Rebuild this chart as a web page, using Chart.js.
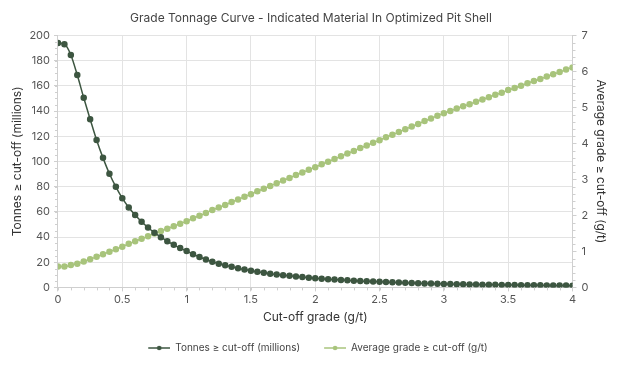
<!DOCTYPE html>
<html>
<head>
<meta charset="utf-8">
<script src="https://cdn.jsdelivr.net/npm/chart.js@4/dist/chart.umd.min.js"></script>
<style>
html,body{margin:0;padding:0;background:#fff;}
#wrap{width:624px;height:365px;position:relative;}
</style>
</head>
<body>
<div id="wrap"><canvas id="c" width="624" height="365"></canvas></div>
<script>
const cutoffGrades = [0,0.05,0.1,0.15,0.2,0.25,0.3,0.35,0.4,0.45,0.5,0.55,0.6,0.65,0.7,0.75,0.8,0.85,0.9,0.95,1,1.05,1.1,1.15,1.2,1.25,1.3,1.35,1.4,1.45,1.5,1.55,1.6,1.65,1.7,1.75,1.8,1.85,1.9,1.95,2,2.05,2.1,2.15,2.2,2.25,2.3,2.35,2.4,2.45,2.5,2.55,2.6,2.65,2.7,2.75,2.8,2.85,2.9,2.95,3,3.05,3.1,3.15,3.2,3.25,3.3,3.35,3.4,3.45,3.5,3.55,3.6,3.65,3.7,3.75,3.8,3.85,3.9,3.95,4];
const tonnes = [194,193,184.5,168.5,150.5,133.5,117,102.8,90.2,79.8,70.8,63.4,57.4,52.1,47.5,43.3,39.9,36.6,33.8,31.2,28.8,26.4,24.2,22.1,20.4,18.8,17.5,16.3,15.2,14.2,13.3,12.4,11.6,10.9,10.3,9.7,9.2,8.7,8.2,7.7,7.3,6.9,6.5,6.2,5.9,5.6,5.3,5.1,4.8,4.6,4.4,4.2,4.0,3.8,3.6,3.45,3.3,3.15,3.0,2.9,2.75,2.65,2.55,2.45,2.35,2.25,2.2,2.1,2.05,2.0,1.9,1.85,1.8,1.75,1.7,1.65,1.6,1.55,1.5,1.45,1.4];
const avgGrade = [0.58,0.58,0.62,0.66,0.72,0.78,0.85,0.92,0.99,1.06,1.13,1.21,1.28,1.35,1.42,1.50,1.57,1.63,1.70,1.77,1.84,1.92,1.99,2.07,2.15,2.22,2.29,2.37,2.44,2.52,2.59,2.67,2.74,2.82,2.89,2.97,3.04,3.12,3.19,3.27,3.34,3.42,3.49,3.57,3.64,3.72,3.79,3.87,3.94,4.02,4.09,4.17,4.24,4.32,4.39,4.47,4.54,4.62,4.69,4.77,4.84,4.90,4.97,5.03,5.09,5.16,5.22,5.28,5.35,5.41,5.48,5.54,5.60,5.67,5.73,5.79,5.86,5.92,5.98,6.05,6.11];
const seriesNames = ["Tonnes \u2265 cut-off (millions)","Average grade \u2265 cut-off (g/t)"];
const titleText = "Grade Tonnage Curve - Indicated Material In Optimized Pit Shell";
const xTitle = "Cut-off grade (g/t)";
const yLeftTitle = "Tonnes \u2265 cut-off (millions)";
const yRightTitle = "Average grade \u2265 cut-off (g/t)";

const darkCol = '#3d5641';
const lightCol = '#a8c47c';
const FONT = 'Inter, "Noto Sans", sans-serif';

function legendIcon(col){
  const cv = document.createElement('canvas');
  cv.width = 36; cv.height = 10;
  const g = cv.getContext('2d');
  g.strokeStyle = col; g.lineWidth = 1.5;
  g.beginPath(); g.moveTo(14,5); g.lineTo(36,5); g.stroke();
  g.fillStyle = col; g.beginPath(); g.arc(25,5,2.3,0,Math.PI*2); g.fill();
  return cv;
}

const minorTicks = {
  id:'minorTicks',
  afterDraw(chart){
    const ctx = chart.ctx;
    ctx.save();
    ctx.strokeStyle = '#cfcfcf';
    ctx.lineWidth = 1;
    const x = chart.scales.x, yl = chart.scales.y, yr = chart.scales.y2;
    ctx.beginPath();
    for(let v=0; v<=200.001; v+=5){
      const p = Math.round(yl.getPixelForValue(v))+0.5;
      ctx.moveTo(yl.right-3,p); ctx.lineTo(yl.right,p);
    }
    for(let v=0; v<=7.001; v+=0.2){
      const p = Math.round(yr.getPixelForValue(v))+0.5;
      ctx.moveTo(yr.left,p); ctx.lineTo(yr.left+3,p);
    }
    for(let v=0; v<=4.001; v+=0.1){
      const p = Math.round(x.getPixelForValue(v))+0.5;
      ctx.moveTo(p,x.top); ctx.lineTo(p,x.top+3);
    }
    ctx.stroke();
    ctx.restore();
  }
};

new Chart(document.getElementById('c'), {
  type:'line',
  data:{
    labels: cutoffGrades,
    datasets:[
      {label:seriesNames[0], data:cutoffGrades.map((g,i)=>({x:g,y:tonnes[i]})), yAxisID:'y',
       borderColor:darkCol, backgroundColor:darkCol, borderWidth:1.5, pointRadius:2.5, pointHoverRadius:2.5,
       pointStyle:'circle', cubicInterpolationMode:'monotone'},
      {label:seriesNames[1], data:cutoffGrades.map((g,i)=>({x:g,y:avgGrade[i]})), yAxisID:'y2',
       borderColor:lightCol, backgroundColor:lightCol, borderWidth:1.5, pointRadius:2.5, pointHoverRadius:2.5,
       pointStyle:'circle', cubicInterpolationMode:'monotone'}
    ]
  },
  options:{
    responsive:false, animation:false,
    layout:{padding:{left:10,right:12,top:2,bottom:2}},
    plugins:{
      title:{display:true,text:titleText,color:'#444',font:{family:FONT,size:12,weight:'normal'},padding:{top:9,bottom:10}},
      legend:{position:'bottom',
        labels:{color:'#444',font:{family:FONT,size:10},usePointStyle:true,pointStyleWidth:36,boxWidth:36,boxHeight:10,padding:10,
          generateLabels(chart){
            return chart.data.datasets.map((d,i)=>({text:d.label,fillStyle:d.borderColor,strokeStyle:d.borderColor,
              pointStyle:legendIcon(d.borderColor),datasetIndex:i,hidden:false,lineWidth:0,fontColor:'#444'}));
          }}},
      tooltip:{enabled:false}
    },
    scales:{
      x:{type:'linear',min:0,max:4,
        ticks:{stepSize:0.5,color:'#555',font:{family:FONT,size:11},padding:2,maxRotation:0,
          callback:(v)=>String(v)},
        grid:{color:'#e3e3e3',tickLength:4,tickColor:'#cfcfcf'},
        border:{color:'#cfcfcf'},
        title:{display:true,text:xTitle,color:'#333',font:{family:FONT,size:12},padding:{top:2,bottom:8}}},
      y:{position:'left',min:0,max:200,
        ticks:{stepSize:20,color:'#555',font:{family:FONT,size:11},padding:4},
        grid:{color:'#e3e3e3',tickLength:4,tickColor:'#cfcfcf'},
        border:{color:'#cfcfcf'},
        title:{display:true,text:yLeftTitle,color:'#333',font:{family:FONT,size:12},padding:{top:0,bottom:1}}},
      y2:{position:'right',min:0,max:7,
        ticks:{stepSize:1,color:'#555',font:{family:FONT,size:11},padding:5},
        grid:{drawOnChartArea:false,tickLength:4,tickColor:'#cfcfcf'},
        border:{color:'#cfcfcf'},
        title:{display:true,text:yRightTitle,color:'#333',font:{family:FONT,size:12},padding:{top:4,bottom:0}}}
    }
  },
  plugins:[minorTicks]
});
</script>
</body>
</html>
